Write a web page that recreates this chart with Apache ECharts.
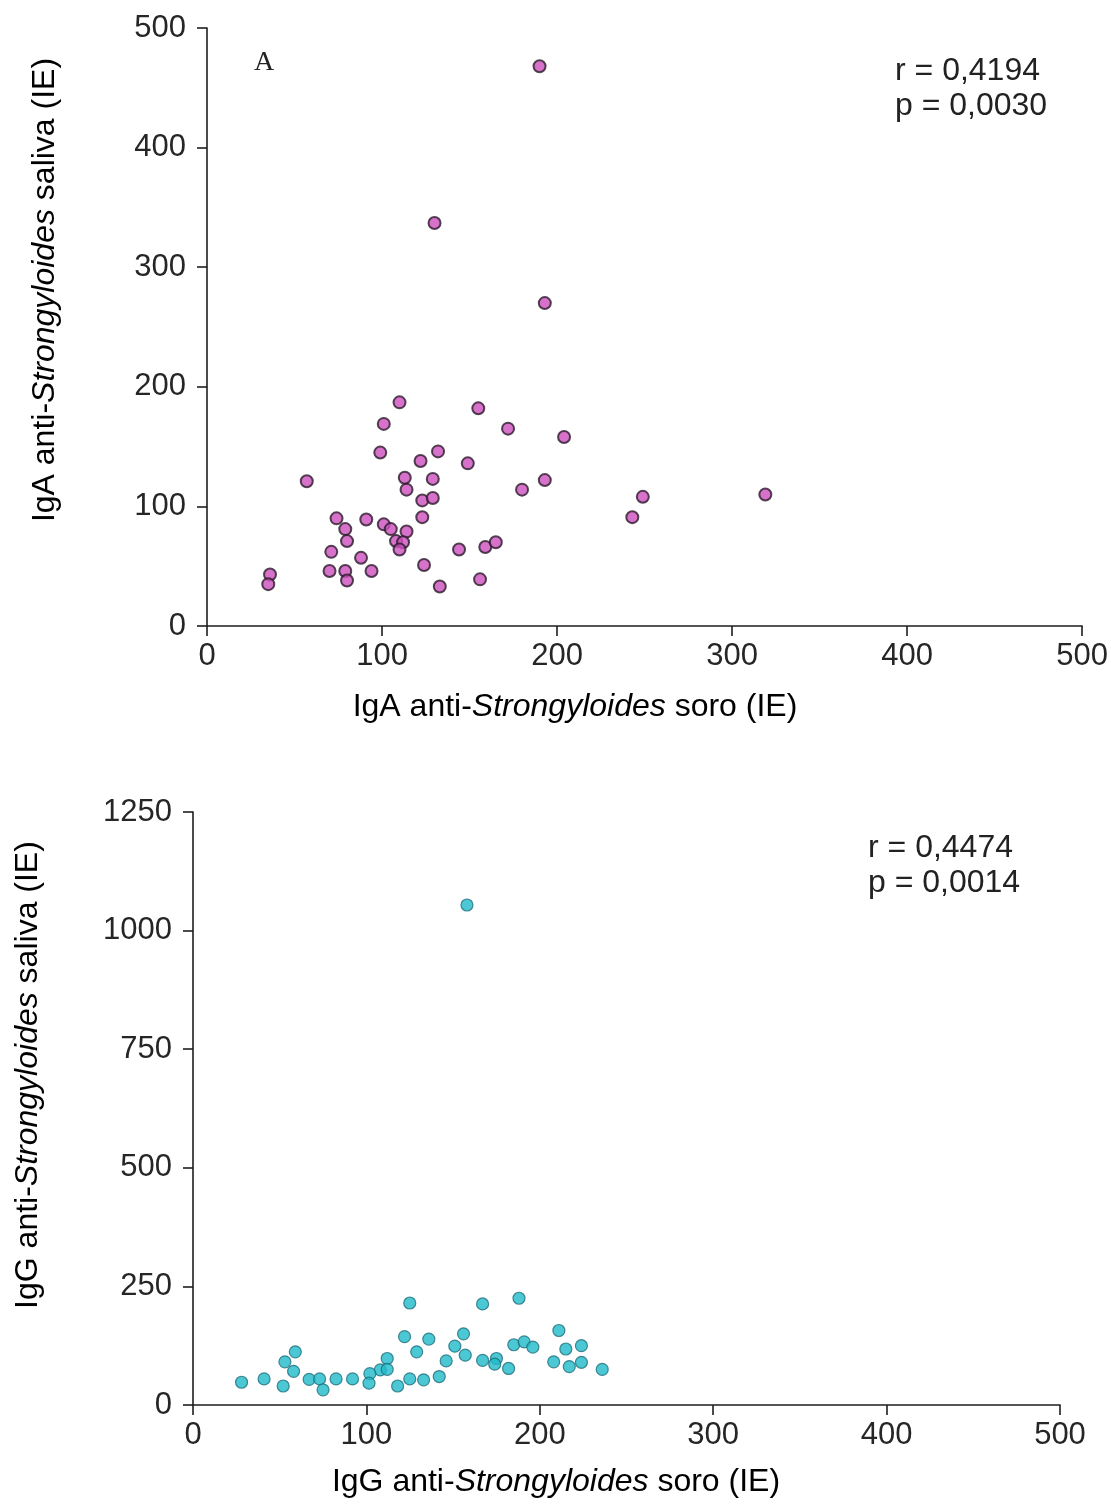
<!DOCTYPE html>
<html>
<head>
<meta charset="utf-8">
<script src="https://cdn.jsdelivr.net/npm/echarts@6/dist/echarts.min.js"></script>
<style>
  html, body { margin: 0; padding: 0; background: #fff; }
  #chart { width: 1111px; height: 1508px; }
</style>
</head>
<body>
<div id="chart"></div>
<script>
// panel A: IgA soro (x) vs IgA saliva (y)
const igaSoro = [110, 155, 172, 204, 101, 99, 132, 122, 149, 57, 113, 129, 114, 193, 180, 249,
  243, 123, 129, 123, 74, 91, 101, 105, 79, 114, 80, 108, 112, 110, 71, 88, 144, 159, 165,
  124, 70, 79, 94, 80, 156, 133, 36, 35, 190, 193, 130, 319]
const igaSaliva = [187, 182, 165, 158, 169, 145, 146, 138, 136, 121, 124, 123, 114, 122, 114, 108,
  91, 105, 107, 91, 90, 89, 85, 81, 81, 79, 71, 71, 70, 64, 62, 57, 64, 66, 70,
  51, 46, 46, 46, 38, 39, 33, 43, 35, 468, 270, 337, 110]

// panel B: IgG soro (x) vs IgG saliva (y)
const iggSoro = [125, 167, 188, 211, 122, 156, 136, 151, 185, 191, 196, 215, 224, 129, 157, 112,
  59, 53, 58, 146, 167, 175, 174, 182, 208, 224, 217, 236, 108, 112, 102, 101.5, 142, 125,
  133, 118, 28, 41, 52, 67, 73, 75, 82.5, 92, 158]
const iggSaliva = [215, 213, 225, 157, 144, 150, 139, 124, 127, 133, 122, 118, 125, 112, 105, 98,
  112, 91, 71, 93, 94, 98, 86, 77, 91, 90, 81, 75, 74, 75, 66, 46, 60, 55,
  53, 40, 48, 55, 40, 54, 55, 32, 55, 55, 1054]

const xTicks = [0, 100, 200, 300, 400, 500]
const yTicksA = [0, 100, 200, 300, 400, 500]
const yTicksB = [0, 250, 500, 750, 1000, 1250]

const font = '"Liberation Sans", Arial, sans-serif'
const ink = '#1e1e1e'

function pairs(xs, ys) {
  return xs.map((x, i) => [x, ys[i]])
}

function axisStyle(interval, max, isX) {
  return {
    type: 'value',
    min: 0,
    max: max,
    interval: interval,
    splitLine: { show: false },
    axisLine: { show: true, onZero: false, lineStyle: { color: ink, width: 1.6 } },
    axisTick: { show: true, length: 10, lineStyle: { color: ink, width: 1.6 } },
    axisLabel: {
      color: '#262626',
      fontFamily: font,
      fontSize: 31,
      margin: isX ? 15 : 21,
      formatter: v => String(v)
    }
  }
}

const rich = {
  n: { fontFamily: font, fontSize: 32, color: '#222' },
  i: { fontFamily: font, fontSize: 32, color: '#222', fontStyle: 'italic' }
}

function nameText(x, y, txt, rot) {
  return {
    type: 'text',
    x: x,
    y: y,
    rotation: rot || 0,
    style: { text: txt, rich: rich, align: 'center', verticalAlign: 'middle' }
  }
}

function plainText(x, y, txt, size, fam) {
  return {
    type: 'text',
    x: x,
    y: y,
    style: { text: txt, fontFamily: fam || font, fontSize: size, fill: '#222', align: 'left', verticalAlign: 'middle' }
  }
}

const chart = echarts.init(document.getElementById('chart'))
chart.setOption({
  animation: false,
  backgroundColor: '#ffffff',
  grid: [
    { left: 207, top: 28, width: 883, height: 598 },
    { left: 193, top: 812, width: 867, height: 593 }
  ],
  xAxis: [
    Object.assign(axisStyle(100, xTicks[xTicks.length - 1], true), { gridIndex: 0 }),
    Object.assign(axisStyle(100, xTicks[xTicks.length - 1], true), { gridIndex: 1 })
  ],
  yAxis: [
    Object.assign(axisStyle(100, yTicksA[yTicksA.length - 1], false), { gridIndex: 0 }),
    Object.assign(axisStyle(250, yTicksB[yTicksB.length - 1], false), { gridIndex: 1 })
  ],
  series: [{
    name: 'IgA',
    type: 'scatter',
    xAxisIndex: 0,
    yAxisIndex: 0,
    symbolSize: 12,
    itemStyle: { color: '#cc4fbd', borderColor: '#2b1a2b', borderWidth: 2 },
    data: pairs(igaSoro, igaSaliva)
  }, {
    name: 'IgG',
    type: 'scatter',
    xAxisIndex: 1,
    yAxisIndex: 1,
    symbolSize: 12,
    itemStyle: { color: '#1fb9c9', borderColor: '#1d6f7c', borderWidth: 1.2 },
    data: pairs(iggSoro, iggSaliva)
  }],
  graphic: [
    nameText(575, 707, '{n|IgA anti-}{i|Strongyloides}{n| soro (IE)}'),
    nameText(45, 290, '{n|IgA anti-}{i|Strongyloides}{n| saliva (IE)}', Math.PI / 2),
    nameText(556, 1482, '{n|IgG anti-}{i|Strongyloides}{n| soro (IE)}'),
    nameText(28, 1075, '{n|IgG anti-}{i|Strongyloides}{n| saliva (IE)}', Math.PI / 2),
    plainText(254, 63, 'A', 28, '"Liberation Serif", "Times New Roman", serif'),
    plainText(895, 71, 'r = 0,4194', 32),
    plainText(895, 106, 'p = 0,0030', 32),
    plainText(868, 848, 'r = 0,4474', 32),
    plainText(868, 883, 'p = 0,0014', 32)
  ]
})
</script>
</body>
</html>
